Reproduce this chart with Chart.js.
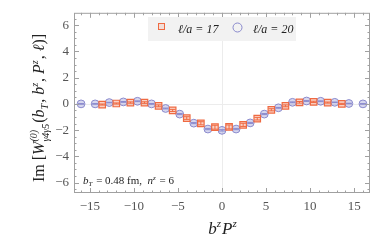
<!DOCTYPE html>
<html>
<head>
<meta charset="utf-8">
<script src="https://cdn.jsdelivr.net/npm/chart.js@4.4.0/dist/chart.umd.min.js"></script>
<style>
  html, body { margin: 0; padding: 0; background: #fff; }
  #wrap { position: relative; width: 382px; height: 243px; }
</style>
</head>
<body>
<div id="wrap"><canvas id="c"></canvas></div>
<script>
// l/a = 17 (squares)
const xSquare = [-13.6, -12.0, -10.4, -8.8, -7.2, -5.6, -4.0, -2.4, -0.8, 0.8, 2.4, 4.0, 5.6, 7.2, 8.8, 10.4, 12.0, 13.6];
const ySquare = [-0.05, 0.03, 0.1, 0.1, -0.15, -0.5, -1.08, -1.48, -1.78, -1.76, -1.6, -1.13, -0.45, -0.15, 0.12, 0.15, 0.1, 0.0];
const eSquare = [0.04, 0.04, 0.05, 0.06, 0.07, 0.08, 0.1, 0.12, 0.15, 0.15, 0.12, 0.1, 0.08, 0.07, 0.06, 0.05, 0.04, 0.04];
// l/a = 20 (circles)
const xCircle = [-16.0, -14.4, -12.8, -11.2, -9.6, -8.0, -6.4, -4.8, -3.2, -1.6, 0.0, 1.6, 3.2, 4.8, 6.4, 8.0, 9.6, 11.2, 12.8, 14.4, 16.0];
const yCircle = [0.0, 0.0, 0.1, 0.15, 0.2, 0.0, -0.35, -0.78, -1.47, -1.92, -2.02, -1.92, -1.45, -0.78, -0.3, 0.12, 0.22, 0.2, 0.12, 0.03, 0.0];
const eCircle = [0.02, 0.02, 0.02, 0.03, 0.03, 0.03, 0.03, 0.04, 0.04, 0.05, 0.05, 0.05, 0.04, 0.04, 0.03, 0.03, 0.03, 0.03, 0.02, 0.02, 0.02];
const legendLabels = ['ℓ/a = 17', 'ℓ/a = 20'];

const SQ = '#ef6a42', CI = '#8a8acd';
const serif = '"Liberation Serif", "DejaVu Serif", serif';

function pts(xs, ys, es) {
  return xs.map((x, i) => ({ x: x, y: ys[i], e: es[i] }));
}

const frame = {
  id: 'frame',
  beforeDatasetsDraw(chart) {
    const { ctx, chartArea: a, scales: { x, y } } = chart;
    ctx.save();
    ctx.strokeStyle = '#ececec';
    ctx.lineWidth = 1;
    ctx.beginPath();
    const x0 = Math.round(x.getPixelForValue(0)) + 0.5;
    const y0 = Math.round(y.getPixelForValue(0)) + 0.5;
    ctx.moveTo(x0, a.top); ctx.lineTo(x0, a.bottom);
    ctx.moveTo(a.left, y0); ctx.lineTo(a.right, y0);
    ctx.stroke();
    ctx.restore();
  },
  afterDatasetsDraw(chart) {
    const { ctx, chartArea: a, scales: { x, y } } = chart;
    // error bars
    ctx.save();
    chart.data.datasets.forEach(ds => {
      ctx.strokeStyle = ds.borderColor;
      ctx.lineWidth = 1;
      ds.data.forEach(p => {
        const px = x.getPixelForValue(p.x);
        const yt = y.getPixelForValue(p.y + p.e), yb = y.getPixelForValue(p.y - p.e);
        ctx.beginPath();
        ctx.moveTo(px, yt); ctx.lineTo(px, yb);
        ctx.moveTo(px - 3, yt); ctx.lineTo(px + 3, yt);
        ctx.moveTo(px - 3, yb); ctx.lineTo(px + 3, yb);
        ctx.stroke();
      });
    });
    ctx.restore();

    // frame + ticks
    ctx.save();
    ctx.strokeStyle = '#a0a0a0';
    ctx.lineWidth = 1;
    ctx.strokeRect(a.left + 0.5, a.top + 0.5, a.right - a.left - 1, a.bottom - a.top - 1);
    ctx.beginPath();
    for (let v = -16; v <= 16; v += 1) {
      const px = Math.round(x.getPixelForValue(v)) + 0.5;
      const len = v % 5 === 0 ? 5 : 2.5;
      ctx.moveTo(px, a.bottom); ctx.lineTo(px, a.bottom - len);
      ctx.moveTo(px, a.top); ctx.lineTo(px, a.top + len);
    }
    for (let v = -6.5; v <= 6.5; v += 0.5) {
      const py = Math.round(y.getPixelForValue(v)) + 0.5;
      const len = Math.abs(v % 2) < 1e-9 ? 5 : 2.5;
      ctx.moveTo(a.left, py); ctx.lineTo(a.left + len, py);
      ctx.moveTo(a.right, py); ctx.lineTo(a.right - len, py);
    }
    ctx.stroke();
    ctx.restore();

    // legend
    ctx.save();
    ctx.fillStyle = '#f2f2f2';
    ctx.fillRect(148, 17, 148, 24);
    ctx.lineWidth = 1;
    ctx.strokeStyle = SQ;
    ctx.fillStyle = 'rgba(239,106,66,0.15)';
    ctx.fillRect(158, 23, 6, 6);
    ctx.strokeRect(158.5, 23.5, 6, 6);
    ctx.strokeStyle = CI;
    ctx.beginPath(); ctx.arc(237.5, 27.5, 4.5, 0, Math.PI * 2); ctx.stroke();
    ctx.fillStyle = '#222';
    ctx.font = 'italic 12px ' + serif;
    ctx.textBaseline = 'alphabetic';
    ctx.fillText(legendLabels[0], 178, 33);
    ctx.fillText(legendLabels[1], 253, 33);

    // annotation
    richText(ctx, 83, 184, [
      ['b', 'i'], ['T', 'sub'], [' = 0.48 fm,  ', 'r'], ['n', 'i'], ['z', 'sup'], [' = 6', 'r']
    ], 11);
    ctx.restore();

    // axis titles
    ctx.save();
    ctx.fillStyle = '#222';
    const xt = [['b', 'i'], ['z', 'sup'], ['P', 'i'], ['z', 'sup']];
    const wx = richWidth(ctx, xt, 17);
    richText(ctx, 223 - wx / 2, 234, xt, 17);
    ctx.translate(44, 108);
    ctx.rotate(-Math.PI / 2);
    const yt = [['Im ', 'r'], ['[', 'r'], ['W', 'i'], ['(0)|γ4γ5', 'supsub'], ['(', 'r'], ['b', 'i'], ['T', 'sub'],
      [', ', 'r'], ['b', 'i'], ['z', 'sup'], [', ', 'r'], ['P', 'i'], ['z', 'sup'], [', ', 'r'], ['ℓ', 'i'], [')]', 'r']];
    const wy = richWidth(ctx, yt, 16);
    richText(ctx, -wy / 2, 0, yt, 16);
    ctx.restore();
  }
};

function fontFor(kind, size) {
  if (kind === 'r') return size + 'px ' + serif;
  if (kind === 'i') return 'italic ' + size + 'px ' + serif;
  return 'italic ' + Math.round(size * 0.62) + 'px ' + serif;
}
function segWidth(ctx, s, size) {
  ctx.font = fontFor(s[1], size);
  if (s[1] === 'supsub') {
    const [a, b] = s[0].split('|');
    return Math.max(ctx.measureText(a).width, ctx.measureText(b).width) + 1;
  }
  return ctx.measureText(s[0]).width + (s[1] === 'sup' || s[1] === 'sub' ? 1 : 0);
}
function richWidth(ctx, segs, size) {
  return segs.reduce((w, s) => w + segWidth(ctx, s, size), 0);
}
function richText(ctx, x, y, segs, size) {
  ctx.textBaseline = 'alphabetic';
  ctx.textAlign = 'left';
  ctx.fillStyle = '#222';
  segs.forEach(s => {
    ctx.font = fontFor(s[1], size);
    if (s[1] === 'sup') ctx.fillText(s[0], x, y - size * 0.4);
    else if (s[1] === 'sub') ctx.fillText(s[0], x, y + size * 0.22);
    else if (s[1] === 'supsub') {
      const [a, b] = s[0].split('|');
      ctx.fillText(a, x, y - size * 0.45);
      ctx.fillText(b, x, y + size * 0.3);
    } else ctx.fillText(s[0], x, y);
    x += segWidth(ctx, s, size);
  });
}

const minus = v => (v < 0 ? '−' + Math.abs(v) : '' + v);

new Chart(document.getElementById('c'), {
  type: 'scatter',
  data: {
    datasets: [
      {
        label: legendLabels[0],
        data: pts(xSquare, ySquare, eSquare),
        pointStyle: 'rect',
        pointRadius: 4.6,
        borderWidth: 1.2,
        borderColor: SQ,
        backgroundColor: 'rgba(239,106,66,0.3)'
      },
      {
        label: legendLabels[1],
        data: pts(xCircle, yCircle, eCircle),
        pointStyle: 'circle',
        pointRadius: 3.9,
        borderWidth: 1,
        borderColor: CI,
        backgroundColor: 'rgba(138,138,205,0.35)'
      }
    ]
  },
  options: {
    responsive: true,
    maintainAspectRatio: false,
    animation: false,
    layout: { padding: { left: 0, top: 10, right: 12, bottom: 0 } },
    plugins: { legend: { display: false }, tooltip: { enabled: false } },
    scales: {
      x: {
        min: -16.8, max: 16.8,
        grid: { display: false, drawTicks: false },
        border: { display: false },
        afterBuildTicks: s => { s.ticks = [-15, -10, -5, 0, 5, 10, 15].map(v => ({ value: v })); },
        ticks: { padding: 6, color: '#555', font: { family: serif, size: 13 }, callback: minus, maxRotation: 0 },
        afterFit: s => { s.height = 50; }
      },
      y: {
        min: -6.8, max: 6.95,
        grid: { display: false, drawTicks: false },
        border: { display: false },
        afterBuildTicks: s => { s.ticks = [-6, -4, -2, 0, 2, 4, 6].map(v => ({ value: v })); },
        ticks: { padding: 5, color: '#555', font: { family: serif, size: 13 }, callback: minus },
        afterFit: s => { s.width = 74; }
      }
    }
  },
  plugins: [frame]
});
</script>
</body>
</html>
